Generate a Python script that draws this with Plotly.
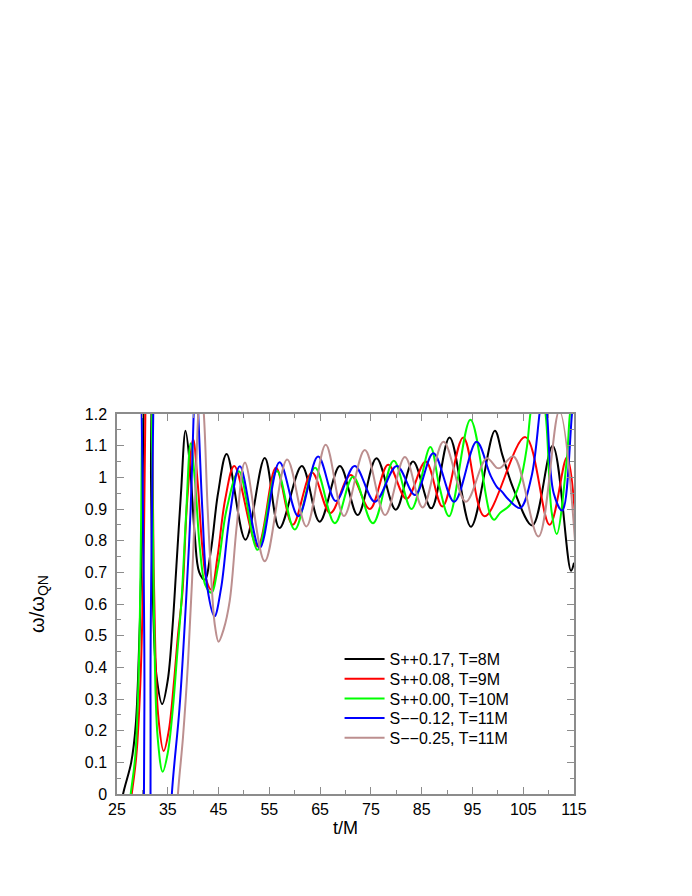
import plotly.graph_objects as go

# ---- data (t/M, omega/omega_QN) ----
t_black = [25.5, 26.2, 27.8, 28.7, 29.4, 29.9, 30.3, 30.6, 31.4, 31.7, 32.1, 32.8, 33.9, 35.0, 35.9, 36.7,
           37.6, 38.5, 39.4, 40.3, 41.2, 42.3, 43.5, 44.9, 46.6, 50.3, 54.1, 57.0, 61.4, 64.9, 68.9,
           72.4, 76.1, 79.9, 83.3, 86.9, 90.5, 94.7, 99.4, 100.9, 103.1, 106.8, 110.8, 114.4, 115.0]
v_black = [-0.08, 0.0, 0.1, 0.22, 0.49, 0.8, 1.3, 2.5, 2.5, 1.0, 0.6, 0.37, 0.284, 0.36, 0.52, 0.72,
           0.95, 1.147, 1.03, 0.82, 0.70, 0.677, 0.77, 0.95, 1.074, 0.803, 1.061, 0.84, 1.036, 0.86, 1.036,
           0.881, 1.06, 0.898, 1.05, 0.902, 1.126, 0.844, 1.147, 1.07, 0.963, 0.848, 1.10, 0.705, 0.73]

t_red = [27.0, 27.9, 28.8, 29.6, 30.3, 30.8, 31.1, 31.6, 31.9, 32.3, 33.1, 34.2, 35.2, 36.2, 37.0, 37.9,
         38.8, 40.0, 40.9, 41.8, 42.7, 43.6, 44.8, 46.3, 48.1, 52.7, 56.3, 59.6, 63.4, 67.0, 71.0, 74.8,
         78.4, 82.0, 85.8, 89.1, 93.2, 97.4, 105.4, 110.2, 113.6, 115.2]
v_red = [-0.1, 0.0, 0.12, 0.35, 0.8, 1.5, 2.5, 2.5, 1.2, 0.65, 0.25, 0.136, 0.2, 0.35, 0.5, 0.64,
         0.92, 1.12, 0.98, 0.78, 0.67, 0.645, 0.75, 0.93, 1.036, 0.782, 1.03, 0.85, 1.015, 0.887, 1.007, 0.90,
         1.04, 0.932, 1.05, 0.908, 1.126, 0.877, 1.127, 0.85, 1.063, 0.88]

t_green = [27.0, 27.7, 28.6, 29.3, 29.7, 30.0, 30.3, 31.5, 31.9, 32.3, 33.0, 34.0, 35.0, 36.0, 36.9, 37.7,
           38.6, 39.5, 40.4, 41.3, 42.4, 43.6, 44.9, 46.6, 49.0, 52.7, 56.5, 60.0, 64.0, 67.9, 71.5, 75.4,
           79.5, 83.0, 86.7, 88.5, 90.4, 94.6, 98.5, 99.3, 100.4, 102.4, 104.4, 105.7, 106.4, 107.8, 109.4,
           110.6, 111.6, 113.6, 114.2, 115.5]
v_green = [-0.1, 0.0, 0.12, 0.4, 0.8, 1.3, 2.5, 2.5, 1.1, 0.55, 0.18, 0.07, 0.13, 0.27, 0.45, 0.61,
           0.88, 1.108, 0.98, 0.78, 0.66, 0.636, 0.72, 0.9, 1.019, 0.771, 1.02, 0.835, 1.03, 0.855, 1.002, 0.855,
           1.052, 0.9, 1.096, 0.97, 0.877, 1.182, 0.882, 0.866, 0.887, 0.913, 0.987, 1.093, 1.2, 1.35, 1.2,
           0.89, 0.821, 1.06, 1.2, 1.35]

t_blue = [30.0, 30.4, 30.7, 31.3, 31.6, 32.0, 35.0, 35.8, 37.3, 38.6, 39.5, 40.1, 40.5, 41.0, 41.8, 42.8,
          44.2, 45.5, 47.2, 49.2, 53.1, 57.0, 60.7, 64.6, 68.1, 71.8, 75.8, 80.1, 83.7, 87.3, 91.4, 95.8,
          98.5, 99.8, 100.8, 102.1, 104.4, 106.6, 108.2, 109.0, 109.7, 111.0, 112.7, 114.6, 115.2]
v_blue = [-1.0, 0.3, 2.5, 2.5, 0.3, -1.0, -0.3, 0.0, 0.27, 0.61, 0.90, 1.2, 1.35, 1.2, 0.9, 0.65,
          0.561, 0.65, 0.88, 1.035, 0.777, 1.048, 0.877, 1.066, 0.925, 1.036, 0.923, 1.036, 0.944, 1.076, 0.923, 1.112,
          1.008, 0.97, 0.955, 0.93, 0.903, 1.0, 1.2, 1.32, 1.2, 0.95, 0.895, 1.2, 1.3]

t_brown = [36.0, 37.0, 38.0, 39.0, 39.8, 40.5, 41.0, 41.5, 42.1, 42.8, 43.6, 44.3, 45.0, 46.0, 47.2, 48.6,
           50.2, 54.1, 58.5, 62.3, 66.1, 69.7, 73.8, 77.8, 81.7, 85.2, 89.3, 93.7, 97.8, 99.8, 100.5,
           103.1, 108.0, 112.1, 115.2]
v_brown = [-0.3, 0.0, 0.18, 0.42, 0.68, 0.98, 1.2, 1.3, 1.2, 0.92, 0.67, 0.53, 0.481, 0.52, 0.61, 0.85,
           1.047, 0.735, 1.056, 0.845, 1.103, 0.878, 1.086, 0.881, 1.064, 0.905, 1.112, 0.923, 1.06, 1.03, 1.03,
           1.066, 0.813, 1.21, 0.80]

names = ["S++0.17, T=8M", "S++0.08, T=9M", "S++0.00, T=10M", "S−−0.12, T=11M", "S−−0.25, T=11M"]
colors = ["#000000", "#ff0000", "#00ff00", "#0000ff", "#bc8f8f"]
series = [(t_black, v_black), (t_red, v_red), (t_green, v_green), (t_blue, v_blue), (t_brown, v_brown)]

x_ticks = [25, 35, 45, 55, 65, 75, 85, 95, 105, 115]
y_ticks = [0, 0.1, 0.2, 0.3, 0.4, 0.5, 0.6, 0.7, 0.8, 0.9, 1, 1.1, 1.2]
y_tick_text = ["0", "0.1", "0.2", "0.3", "0.4", "0.5", "0.6", "0.7", "0.8", "0.9", "1", "1.1", "1.2"]

font = "Liberation Sans, Arial, Helvetica, sans-serif"
axcol = "#8c8c8c"

legend_ids = ["legend", "legend2", "legend3", "legend4", "legend5"]
legend_y = [0.355, 0.303, 0.251, 0.200, 0.148]

fig = go.Figure()
for (tt, vv), nm, col, lid in zip(series, names, colors, legend_ids):
    fig.add_trace(go.Scatter(x=tt, y=vv, mode="lines", name=nm, legend=lid,
                             line=dict(color=col, width=2, shape="spline", smoothing=1.0)))

legends = {}
for lid, ly in zip(legend_ids, legend_y):
    legends[lid] = dict(x=0.487, y=ly, xanchor="left", yanchor="middle",
                        bgcolor="rgba(0,0,0,0)", borderwidth=0,
                        font=dict(size=16, family=font, color="black"), itemwidth=40)

fig.update_layout(
    width=692, height=896,
    paper_bgcolor="white", plot_bgcolor="white",
    margin=dict(l=109, r=126, t=406, b=110),
    font=dict(family=font, size=16, color="black"),
    showlegend=True,
    **legends,
    xaxis=dict(range=[25, 115], tickmode="array", tickvals=x_ticks, ticktext=[str(v) for v in x_ticks],
               showgrid=False, zeroline=False, showline=True, linecolor=axcol, linewidth=1.5,
               mirror="ticks", ticks="inside", ticklen=7, tickcolor=axcol, tickwidth=1,
               minor=dict(dtick=5, tick0=25, ticks="inside", ticklen=4, tickcolor=axcol, showgrid=False),
               title=dict(text="t/M", font=dict(size=18, family=font), standoff=4)),
    yaxis=dict(range=[0, 1.2], tickmode="array", tickvals=y_ticks, ticktext=y_tick_text,
               showgrid=False, zeroline=False, showline=True, linecolor=axcol, linewidth=1.5,
               mirror="ticks", ticks="inside", ticklen=7, tickcolor=axcol, tickwidth=1,
               ticklabelstandoff=5,
               minor=dict(dtick=0.05, tick0=0, ticks="inside", ticklen=4, tickcolor=axcol, showgrid=False),
               title=dict(text="ω/ω<sub>QN</sub>", font=dict(size=20, family=font), standoff=35)),
)

fig.write_html("out.html")
